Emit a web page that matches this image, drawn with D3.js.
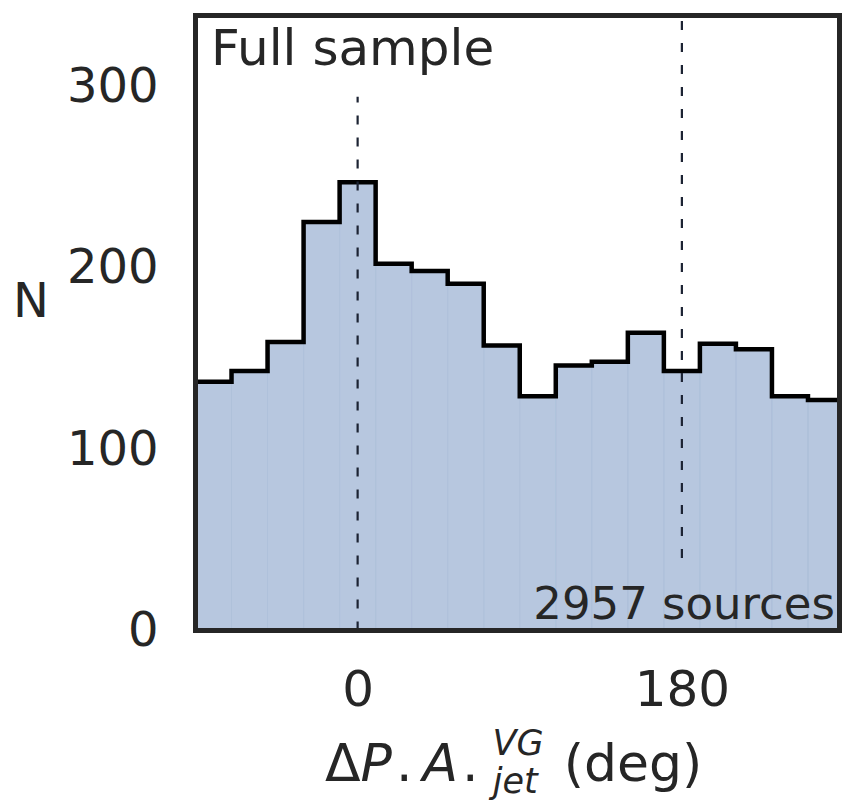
<!DOCTYPE html>
<html>
<head>
<meta charset="utf-8">
<script src="https://cdnjs.cloudflare.com/ajax/libs/d3/7.8.5/d3.min.js"></script>
<style>
  body { margin: 0; background: #fff; }
  text { font-family: "DejaVu Sans", sans-serif; fill: #262626; }
</style>
</head>
<body>
<div id="chart"></div>
<script>
// bin edges (deg) and counts per bin
const binEdges = [-90, -70, -50, -30, -10, 10, 30, 50, 70, 90, 110, 130, 150, 170, 190, 210, 230, 250, 270];
const counts = [137, 143, 159, 225, 247, 202, 198, 191, 157, 129, 146, 148, 164, 143, 158, 155, 129, 127];
const yTicks = [0, 100, 200, 300];
const xTicks = [0, 180];
const markLines = [{x: 0, from: 0, to: 294}, {x: 180, from: 40, to: 339}];

let width = 843, height = 807;
let margin = {top: 15.5, right: 3.5, bottom: 176.5, left: 195.5};

let svg = d3.select("#chart").append("svg")
    .attr("width", width)
    .attr("height", height);

let x = d3.scaleLinear()
    .domain([-90, 267.5])
    .range([margin.left, width - margin.right]);

let y = d3.scaleLinear()
    .domain([0, 338.8])
    .range([height - margin.bottom, margin.top]);

let bins = counts.map((c, i) => ({x0: binEdges[i], x1: binEdges[i + 1], n: c}));

svg.append("clipPath").attr("id", "plotclip")
    .append("rect")
    .attr("x", margin.left)
    .attr("y", margin.top)
    .attr("width", width - margin.right - margin.left)
    .attr("height", y(0) - margin.top);

let plot = svg.append("g").attr("clip-path", "url(#plotclip)");

// filled bars
plot.append("g")
    .selectAll("rect")
    .data(bins)
    .enter()
    .append("rect")
    .attr("x", d => x(d.x0))
    .attr("y", d => y(d.n))
    .attr("width", d => x(d.x1) - x(d.x0))
    .attr("height", d => y(0) - y(d.n))
    .attr("fill", "#4C72B0")
    .attr("fill-opacity", 0.4)
    .attr("stroke", "#4C72B0")
    .attr("stroke-opacity", 0.06)
    .attr("stroke-width", 1);

// step outline
let stepPts = bins.map(d => [d.x0, d.n]);
stepPts.push([binEdges[binEdges.length - 1], counts[counts.length - 1]]);

plot.append("path")
    .datum(stepPts)
    .attr("fill", "none")
    .attr("stroke", "#000")
    .attr("stroke-width", 4.5)
    .attr("stroke-linejoin", "miter")
    .attr("d", d3.line().x(d => x(d[0])).y(d => y(d[1])).curve(d3.curveStepAfter));

// dashed markers
plot.append("g")
    .selectAll("line")
    .data(markLines)
    .enter()
    .append("line")
    .attr("x1", d => x(d.x))
    .attr("x2", d => x(d.x))
    .attr("y1", d => y(d.from))
    .attr("y2", d => y(d.to))
    .attr("stroke", "#1c2333")
    .attr("stroke-width", 2.2)
    .attr("stroke-dasharray", "9,13");

// frame
svg.append("rect")
    .attr("x", margin.left)
    .attr("y", margin.top)
    .attr("width", width - margin.right - margin.left)
    .attr("height", y(0) - margin.top)
    .attr("fill", "none")
    .attr("stroke", "#262626")
    .attr("stroke-width", 5);

// y axis labels
let yAxis = svg.append("g")
    .attr("transform", "translate(" + margin.left + ",0)")
    .call(d3.axisLeft(y).tickValues(yTicks).tickSize(0).tickPadding(37));
yAxis.select(".domain").remove();
yAxis.selectAll("text")
    .attr("font-size", 48)
    .attr("font-family", "DejaVu Sans")
    .attr("fill", "#262626");

// x axis labels
let xAxis = svg.append("g")
    .attr("transform", "translate(0," + y(0) + ")")
    .call(d3.axisBottom(x).tickValues(xTicks).tickSize(0).tickPadding(40));
xAxis.select(".domain").remove();
xAxis.selectAll("text")
    .attr("font-size", 50)
    .attr("font-family", "DejaVu Sans")
    .attr("fill", "#262626");

// axis titles
svg.append("text")
    .attr("x", 31)
    .attr("y", 300)
    .attr("text-anchor", "middle")
    .attr("dominant-baseline", "central")
    .attr("font-size", 48)
    .text("N");

let xl = svg.append("text")
    .attr("x", 325)
    .attr("y", 781)
    .attr("font-size", 52);
xl.append("tspan").text("Δ");
xl.append("tspan").attr("font-style", "italic").text("P");
xl.append("tspan").attr("dx", 4).text(".");
xl.append("tspan").attr("dx", 10).attr("font-style", "italic").text("A");
xl.append("tspan").attr("dx", 4).text(".");
xl.append("tspan").attr("font-style", "italic").attr("font-size", 35).attr("dx", 14).attr("dy", -26).text("VG");
xl.append("tspan").attr("font-style", "italic").attr("font-size", 35).attr("dx", -51).attr("dy", 38).text("jet");
xl.append("tspan").attr("dx", 26).attr("dy", -12).text("(deg)");

// annotations
svg.append("text")
    .attr("x", 211)
    .attr("y", 65)
    .attr("font-size", 50)
    .text("Full sample");

svg.append("text")
    .attr("x", 835)
    .attr("y", 619)
    .attr("text-anchor", "end")
    .attr("font-size", 45)
    .text("2957 sources");
</script>
</body>
</html>
